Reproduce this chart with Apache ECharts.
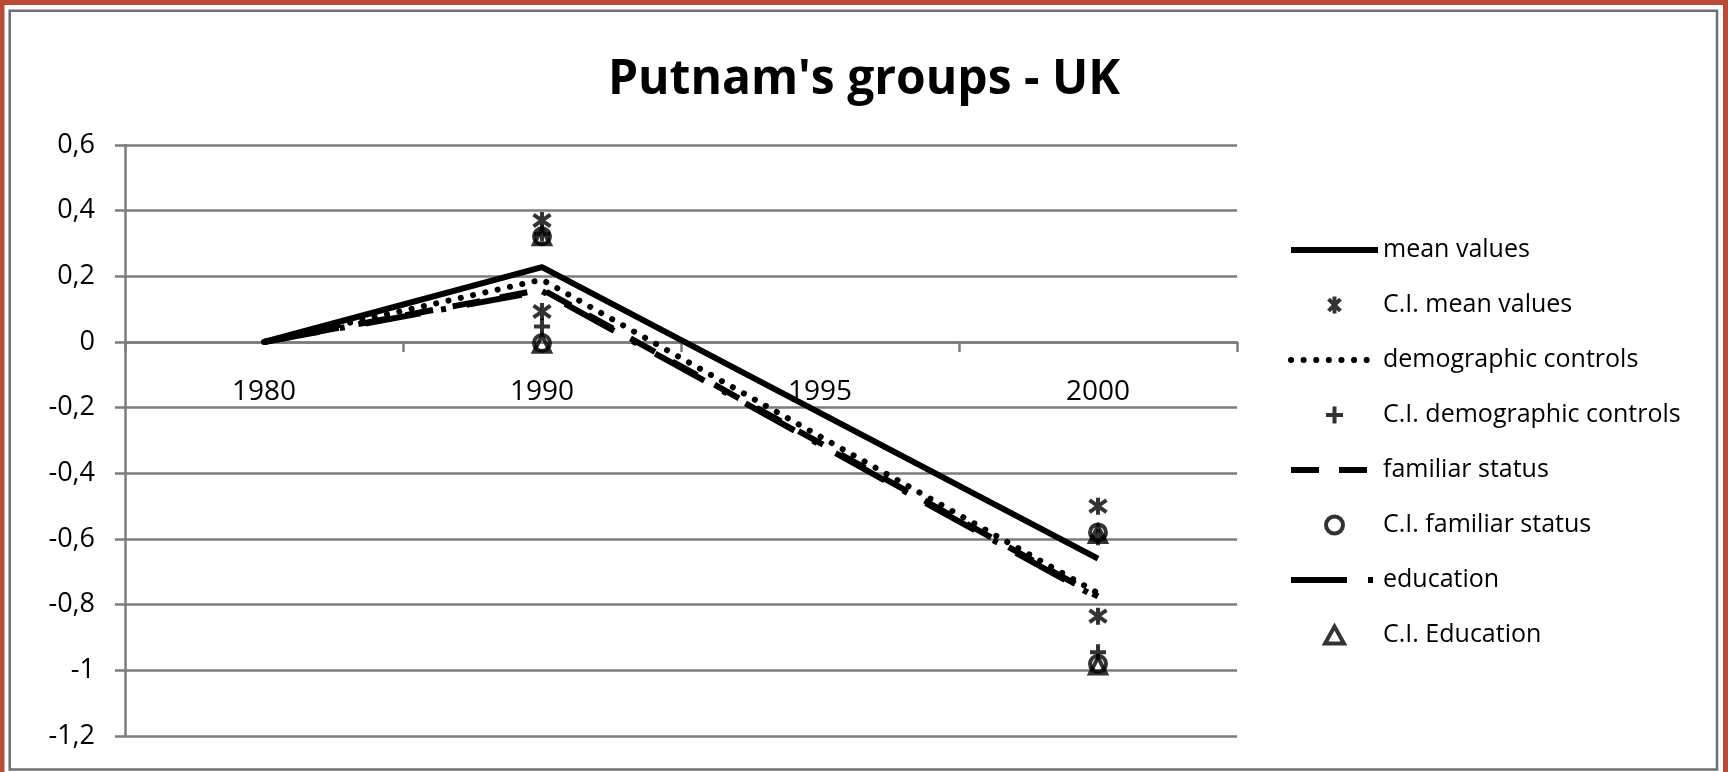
<!DOCTYPE html>
<html>
<head>
<meta charset="utf-8">
<title>Putnam's groups - UK</title>
<script src="https://cdn.jsdelivr.net/npm/echarts@6/dist/echarts.min.js"></script>
<style>
  html, body { margin: 0; padding: 0; background: #ffffff; }
  #chart { width: 1728px; height: 772px; }
</style>
</head>
<body>
<div id="chart"></div>
<script>
// Survey waves on the category axis (1995 has no observation; lines bridge it)
const years = ['1980', '1990', '1995', '2000'];

// Estimated trends
const meanValues          = [0, 0.228, null, -0.66];
const demographicControls = [0, 0.19,  null, -0.765];
const familiarStatus      = [0, 0.16,  null, -0.775];
const education           = [0, 0.155, null, -0.78];

// Confidence interval bounds
const ciMeanUpper   = [null, 0.37,   null, -0.50];
const ciMeanLower   = [null, 0.093,  null, -0.835];
const ciDemoUpper   = [null, 0.33,   null, -0.595];
const ciDemoLower   = [null, 0.047,  null, -0.945];
const ciFamilyUpper = [null, 0.322,  null, -0.58];
const ciFamilyLower = [null, -0.003, null, -0.98];
const ciEduUpper    = [null, 0.322,  null, -0.585];
const ciEduLower    = [null, -0.005, null, -0.985];

// Value axis range
const Y_MIN = -1.2, Y_MAX = 0.6, Y_STEP = 0.2;

const FONT = '"Open Sans", "DejaVu Sans", sans-serif';
const GRID_GRAY = '#7c7c7c';
const GRID = { left: 125, right: 491, top: 145, bottom: 36 };
const PLOT_HEIGHT = 772 - GRID.top - GRID.bottom;
// Distance from the bottom of the plot up to the zero line
const ZERO_LIFT = PLOT_HEIGHT * (0 - Y_MIN) / (Y_MAX - Y_MIN);

function ciPoints(upper, lower) {
  const pts = [];
  years.forEach((y, i) => {
    if (upper[i] != null) pts.push([y, upper[i]]);
    if (lower[i] != null) pts.push([y, lower[i]]);
  });
  return pts;
}

const ASTERISK = 'path://M1.5,1.5L8.5,8.5M8.5,1.5L1.5,8.5M5,0L5,10';
const PLUS = 'path://M5,0L5,10M0,5L10,5';
const TRIANGLE = 'path://M5,0L10,9L0,9Z';
const CLEAR = 'rgba(255,255,255,0)';
const MARK_STROKE = 4;

function lineSeries(name, values, lineStyle) {
  return {
    name: name,
    type: 'line',
    data: values,
    connectNulls: true,
    symbol: 'none',
    silent: true,
    itemStyle: { color: '#000' },
    lineStyle: Object.assign({ color: '#000', width: 6 }, lineStyle)
  };
}

function ciSeries(name, upper, lower, symbol, size) {
  return {
    name: name,
    type: 'scatter',
    data: ciPoints(upper, lower),
    symbol: symbol,
    symbolSize: size,
    silent: true,
    z: 5,
    itemStyle: { color: CLEAR, borderColor: '#000', borderWidth: MARK_STROKE }
  };
}

const series = [
  lineSeries('mean values', meanValues, { type: 'solid' }),
  ciSeries('C.I. mean values', ciMeanUpper, ciMeanLower, ASTERISK, 17),
  lineSeries('demographic controls', demographicControls, { type: [0.1, 12.5], cap: 'round' }),
  ciSeries('C.I. demographic controls', ciDemoUpper, ciDemoLower, PLUS, 16),
  lineSeries('familiar status', familiarStatus, { type: [28, 20], cap: 'butt' }),
  ciSeries('C.I. familiar status', ciFamilyUpper, ciFamilyLower, 'circle', 16),
  lineSeries('education', education, { type: [56, 21, 5, 21], cap: 'butt' }),
  ciSeries('C.I. Education', ciEduUpper, ciEduLower, TRIANGLE, 16)
];

// Legend entries: line samples carry no marker, marker samples keep their outline
const legendData = series.map(s => s.type === 'line'
  ? { name: s.name, itemStyle: { color: CLEAR, borderWidth: 0, opacity: 0 } }
  : { name: s.name, itemStyle: { color: CLEAR, borderColor: '#000', borderWidth: MARK_STROKE } });

const chart = echarts.init(document.getElementById('chart'), null, { renderer: 'canvas' });

chart.setOption({
  animation: false,
  backgroundColor: '#ffffff',
  title: {
    text: "Putnam's groups - UK",
    left: 'center',
    top: 51,
    textStyle: { fontFamily: FONT, fontSize: 48, fontWeight: 'bold', color: '#000', lineHeight: 48 }
  },
  grid: Object.assign({ containLabel: false }, GRID),
  legend: {
    orient: 'vertical',
    left: 1283,
    top: 232.5,
    itemWidth: 87,
    itemHeight: 17,
    itemGap: 30,
    selectedMode: false,
    symbolKeepAspect: true,
    lineStyle: { width: 6 },
    textStyle: { fontFamily: FONT, fontSize: 25, color: '#000', lineHeight: 25 },
    data: legendData
  },
  xAxis: {
    type: 'category',
    data: years,
    boundaryGap: true,
    position: 'bottom',
    offset: -ZERO_LIFT,
    axisLine: { onZero: false, lineStyle: { color: GRID_GRAY, width: 2.5 } },
    axisTick: { show: true, length: 10, interval: 0, lineStyle: { color: GRID_GRAY, width: 2.5 } },
    axisLabel: { margin: 36, fontFamily: FONT, fontSize: 28, color: '#000', lineHeight: 28 },
    splitLine: { show: false }
  },
  yAxis: {
    type: 'value',
    min: Y_MIN,
    max: Y_MAX,
    interval: Y_STEP,
    axisLine: { show: true, lineStyle: { color: GRID_GRAY, width: 2.5 } },
    axisTick: { show: true, length: 10, lineStyle: { color: GRID_GRAY, width: 2.5 } },
    axisLabel: {
      margin: 30,
      fontFamily: FONT,
      fontSize: 27,
      color: '#000',
      formatter: v => String(+v.toFixed(1)).replace('.', ',')
    },
    splitLine: { show: true, lineStyle: { color: GRID_GRAY, width: 2.5 } }
  },
  graphic: [
    {
      type: 'polyline',
      silent: true,
      shape: { points: [[2, 772], [2, 2.5], [1725.5, 2.5], [1725.5, 772]] },
      style: { fill: null, stroke: '#b94a33', lineWidth: 5 }
    },
    {
      type: 'rect',
      silent: true,
      shape: { x: 9.7, y: 10.7, width: 1707.3, height: 758.8 },
      style: { fill: null, stroke: '#6f6f6f', lineWidth: 2.5 }
    }
  ],
  series: series
});
</script>
</body>
</html>
